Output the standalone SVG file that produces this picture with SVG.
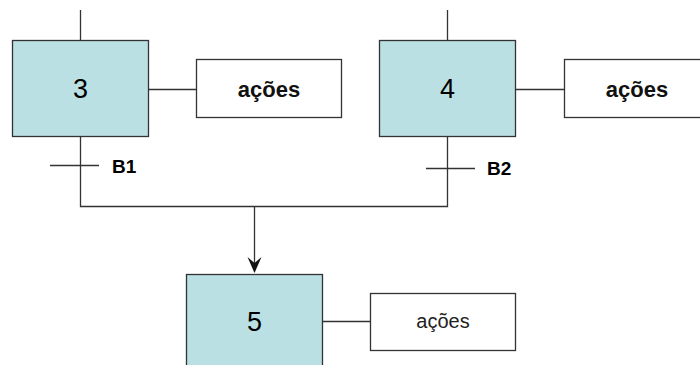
<svg xmlns="http://www.w3.org/2000/svg" width="700" height="365" viewBox="0 0 700 365">
  <defs>
    <style>
      .step { fill: #bbe0e3; stroke: #333; stroke-width: 1.3; }
      .act { fill: #fff; stroke: #333; stroke-width: 1.3; }
      .ln { fill: none; stroke: #333; stroke-width: 1.3; }
      .num { font-family: "Liberation Sans", Arial, sans-serif; font-size: 27px; fill: #000; text-anchor: middle; }
      .actb { font-family: "Liberation Sans", Arial, sans-serif; font-size: 22px; font-weight: bold; fill: #111; text-anchor: middle; }
      .actr { font-family: "Liberation Sans", Arial, sans-serif; font-size: 20px; fill: #222; text-anchor: middle; }
      .cond { font-family: "Liberation Sans", Arial, sans-serif; font-size: 19px; font-weight: bold; fill: #000; }
    </style>
  </defs>
  <rect width="700" height="365" fill="#fff"/>

  <!-- connectors -->
  <g id="connectors">
    <line class="ln" x1="80.5" y1="10" x2="80.5" y2="40"/>
    <line class="ln" x1="447.5" y1="10" x2="447.5" y2="40"/>
    <line class="ln" x1="148" y1="89.5" x2="196" y2="89.5"/>
    <line class="ln" x1="516" y1="89.5" x2="564" y2="89.5"/>
    <line class="ln" x1="322" y1="321.5" x2="370" y2="321.5"/>
    <polyline class="ln" points="80.5,136 80.5,206.5 447.5,206.5 447.5,136"/>
    <line class="ln" x1="50" y1="165.5" x2="99" y2="165.5"/>
    <line class="ln" x1="426" y1="168.5" x2="475" y2="168.5"/>
    <line class="ln" x1="254.5" y1="206.5" x2="254.5" y2="264"/>
    <path d="M254.5,273 L247.5,257 L254.5,263 L261.5,257 Z" fill="#111"/>
    <text class="cond" x="112" y="173">B1</text>
    <text class="cond" x="487" y="175">B2</text>
  </g>

  <g id="step3">
    <rect class="step" x="12.5" y="40.5" width="136" height="96"/>
    <text class="num" x="80.5" y="98">3</text>
  </g>
  <g id="act3">
    <rect class="act" x="196.5" y="59.5" width="145" height="58"/>
    <text class="actb" x="269" y="97">ações</text>
  </g>

  <g id="step4">
    <rect class="step" x="379.5" y="40.5" width="136" height="96"/>
    <text class="num" x="447.5" y="98">4</text>
  </g>
  <g id="act4">
    <rect class="act" x="564.5" y="59.5" width="145" height="58"/>
    <text class="actb" x="637" y="97">ações</text>
  </g>

  <g id="step5">
    <rect class="step" x="186.5" y="274.5" width="136" height="100"/>
    <text class="num" x="254.5" y="331">5</text>
  </g>
  <g id="act5">
    <rect class="act" x="370.5" y="293.5" width="145" height="57"/>
    <text class="actr" x="443" y="328">ações</text>
  </g>
</svg>
